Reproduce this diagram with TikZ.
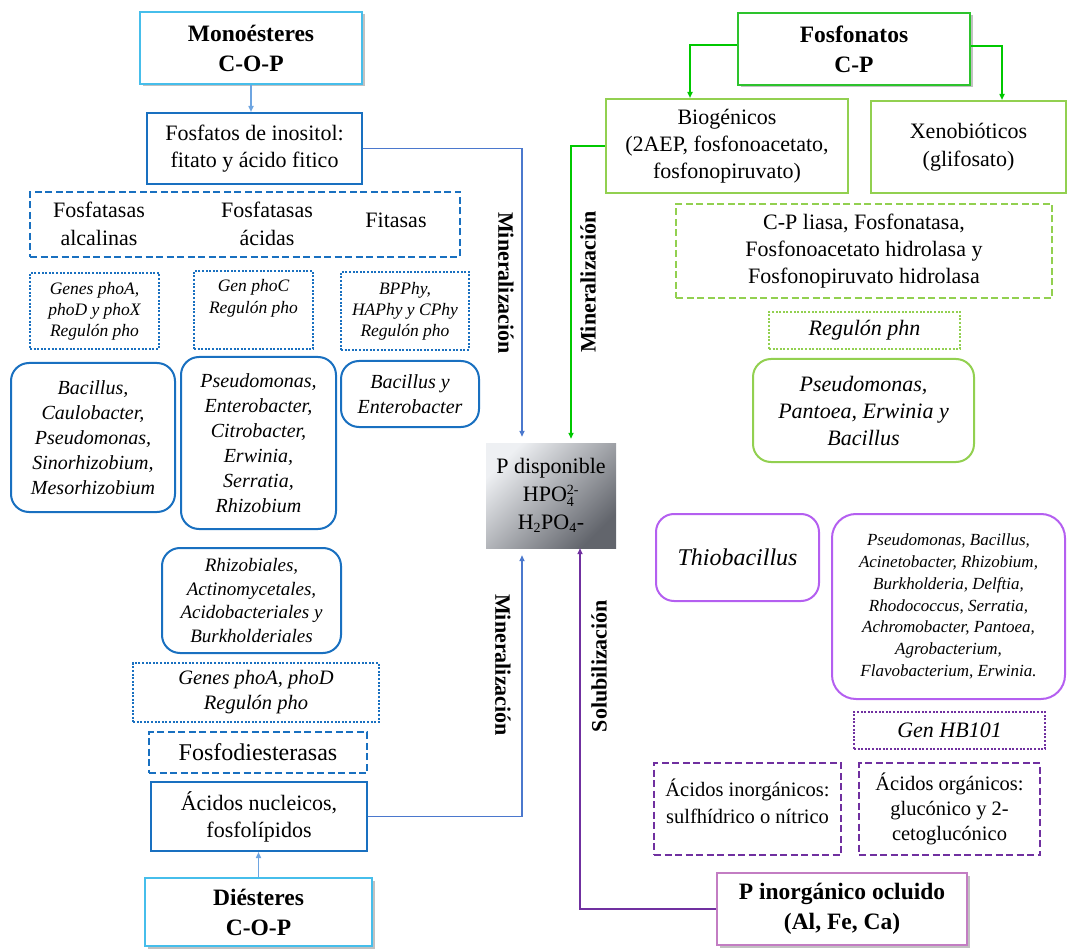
\documentclass[tikz,border=0pt]{standalone}
\usepackage{fontspec}
\setmainfont{Liberation Serif}
\usetikzlibrary{arrows.meta,shadows,calc}
\definecolor{cyanb}{RGB}{70,190,235}
\definecolor{blueb}{RGB}{25,112,192}
\definecolor{bluearr}{RGB}{110,165,225}
\definecolor{blueline}{RGB}{75,120,205}
\definecolor{greenb}{RGB}{45,195,45}
\definecolor{greenl}{RGB}{0,200,0}
\definecolor{lgreen}{RGB}{146,208,80}
\definecolor{purp}{RGB}{180,95,240}
\definecolor{dpurp}{RGB}{112,48,160}
\definecolor{pinkb}{RGB}{195,125,195}
\definecolor{grayL}{RGB}{238,240,243}
\definecolor{grayD}{RGB}{98,101,108}
\newcommand{\szN}{\fontsize{22}{27}\selectfont}
\newcommand{\szH}{\fontsize{23.5}{30}\selectfont\bfseries}
\newcommand{\szS}{\fontsize{17.5}{21}\selectfont\itshape}
\newcommand{\szB}{\fontsize{20}{25}\selectfont\itshape}
\newcommand{\szI}{\fontsize{22}{27}\selectfont\itshape}
\newcommand{\szL}{\fontsize{17}{21.7}\selectfont\itshape}
\newcommand{\szV}{\fontsize{22}{22}\selectfont\bfseries}
\newcommand{\smalltxt}[1]{\hbox{\fontsize{14}{14}\selectfont #1}}
\tikzset{
  base/.style={inner sep=0pt, align=center},
  sz/.style 2 args={minimum width=#1pt, minimum height=#2pt},
  hdr/.style={base, draw=#1, line width=1.8pt, fill=white,
    drop shadow={shadow xshift=2.5pt, shadow yshift=-2.5pt, opacity=0.35, fill=black!70}},
  solidbox/.style={base, draw=#1, line width=2pt},
  dashbox/.style={base, draw=#1, line width=1.7pt, dash pattern=on 7pt off 3.5pt},
  dotbox/.style={base, draw=#1, line width=1.7pt, dash pattern=on 2pt off 1.6pt},
  roundbox/.style={base, draw=#1, line width=2pt, rounded corners=18pt},
  conn/.style={draw=#1, line width=1.8pt, -{Triangle[length=6pt,width=5pt]}},
  vlab/.style={base, font=\szV},
}
\begin{document}
\begin{tikzpicture}[x=1pt,y=-1pt]
\useasboundingbox (0,0) rectangle (1068,949);
% ---------- left top
\node[hdr=cyanb, sz={222}{72}, font=\szH] (mono) at (251,48) {Monoésteres\\C-O-P};
\node[solidbox=blueb, sz={215}{71}, font=\szN] (inos) at (254.5,148.5) {Fosfatos de inositol:\\fitato y ácido fitico};
\node[dashbox=blueb, sz={430}{65}] (enz) at (245,224.5) {};
\node[base, font={\fontsize{22}{28}\selectfont}] (enz1) at (99,224) {Fosfatasas\\alcalinas};
\node[base, font={\fontsize{22}{28}\selectfont}] (enz2) at (267,224) {Fosfatasas\\ácidas};
\node[base, font=\szN] (enz3) at (396,220) {Fitasas};
\node[dotbox=blueb, sz={129}{76}, font=\szS] (g1) at (94.5,311) {Genes phoA,\\phoD y phoX\\Regulón pho};
\node[dotbox=blueb, sz={119}{78}] (g2) at (253.5,310) {};
\node[base, font={\fontsize{17.5}{22}\selectfont\itshape}] (g2t) at (253.5,298.5) {Gen phoC\\Regulón pho};
\node[dotbox=blueb, sz={128}{78}, font=\szS] (g3) at (405,311) {BPPhy,\\HAPhy y CPhy\\Regulón pho};
\node[roundbox=blueb, sz={164}{149}, font=\szB] (bA) at (93,437.5) {Bacillus,\\Caulobacter,\\Pseudomonas,\\Sinorhizobium,\\Mesorhizobium};
\node[roundbox=blueb, sz={155}{172}, font=\szB] (bB) at (258.5,443) {Pseudomonas,\\Enterobacter,\\Citrobacter,\\Erwinia,\\Serratia,\\Rhizobium};
\node[roundbox=blueb, sz={138}{66}, font=\szB] (bC) at (410,394) {Bacillus y\\Enterobacter};
% ---------- center
\node[base, sz={130}{105}, top color=grayL, bottom color=grayD, shading angle=45, font={\fontsize{22}{28}\selectfont}] (pd) at (551,495.5)
  {P disponible\\HPO$_{\smalltxt{4}}^{\smalltxt{2-}}$\\H$_{\smalltxt{2}}$PO$_{\smalltxt{4}}$-};
% ---------- right top
\node[hdr=greenb, sz={232}{72}, font=\szH] (fosf) at (854,49) {Fosfonatos\\C-P};
\node[solidbox=lgreen, sz={242}{94}, font=\szN] (bio) at (727,146) {Biogénicos\\(2AEP, fosfonoacetato,\\fosfonopiruvato)};
\node[solidbox=lgreen, sz={195}{92}, font={\fontsize{22}{28}\selectfont}] (xeno) at (968.5,147) {Xenobióticos\\(glifosato)};
\node[dashbox=lgreen, sz={376}{94}, font=\szN] (genz) at (864,251) {C-P liasa, Fosfonatasa,\\Fosfonoacetato hidrolasa y\\Fosfonopiruvato hidrolasa};
\node[dotbox=lgreen, sz={191}{37}, font=\szI] (phn) at (864.5,330.5) {Regulón phn};
\node[roundbox=lgreen, sz={221}{103}, font=\szI] (gbac) at (863.5,410.5) {Pseudomonas,\\Pantoea, Erwinia y\\Bacillus};
% ---------- right bottom
\node[roundbox=purp, sz={163}{87}, font={\fontsize{24}{28}\selectfont\itshape}] (thio) at (737.5,557.5) {Thiobacillus};
\node[roundbox=purp, rounded corners=24pt, sz={233}{185}, font=\szL] (plist) at (948.5,606.5) {Pseudomonas, Bacillus,\\Acinetobacter, Rhizobium,\\Burkholderia, Delftia,\\Rhodococcus, Serratia,\\Achromobacter, Pantoea,\\Agrobacterium,\\Flavobacterium, Erwinia.};
\node[dotbox=dpurp, sz={191}{37}, font=\szI] (hb) at (949.5,730.5) {Gen HB101};
\node[dashbox=dpurp, sz={187}{92}] (ainorg) at (747.5,809) {};
\node[base, font={\fontsize{20.5}{27}\selectfont}] (ainorgt) at (747.5,801.5) {Ácidos inorgánicos:\\sulfhídrico o nítrico};
\node[dashbox=dpurp, sz={181}{92}, font={\fontsize{20.5}{25}\selectfont}] (aorg) at (949.5,809) {Ácidos orgánicos:\\glucónico y 2-\\cetoglucónico};
\node[hdr=pinkb, sz={250}{72}, font={\fontsize{23.5}{30}\selectfont\bfseries}] (pino) at (842,909) {P inorgánico ocluido\\(Al, Fe, Ca)};
% ---------- left bottom
\node[roundbox=blueb, sz={179}{105}, font={\fontsize{19}{23.5}\selectfont\itshape}] (rhiz) at (251.5,600.5) {Rhizobiales,\\Actinomycetales,\\Acidobacteriales y\\Burkholderiales};
\node[dotbox=blueb, sz={246}{59}, font={\fontsize{20.5}{25}\selectfont\itshape}] (gph) at (256,692.5) {Genes phoA, phoD\\Regulón pho};
\node[dashbox=blueb, sz={218}{41}, font={\fontsize{24}{28}\selectfont}] (fdiest) at (258,752.5) {Fosfodiesterasas};
\node[solidbox=blueb, sz={216}{69}, font=\szN] (anuc) at (259,816.5) {Ácidos nucleicos,\\fosfolípidos};
\node[hdr=cyanb, sz={227}{68}, font=\szH] (dies) at (258.5,912) {Diésteres\\C-O-P};
% ---------- connectors
\draw[conn=bluearr, line width=1.5pt] (mono.south) -- (mono.south |- inos.north);
\draw[conn=blueline, shorten >=6pt] (inos.east) -| ($(pd.north)+(-29,0)$);
\draw[conn=greenl, shorten >=4pt] (bio.west) -| ($(pd.north)+(20,0)$);
\draw[conn=greenl] ([yshift=4pt]fosf.west) -| ($(bio.north)+(-37,0)$);
\draw[conn=greenl] ([yshift=3pt]fosf.east) -| ($(xeno.north)+(33.5,0)$);
\draw[conn=blueline, shorten >=7pt] (anuc.east) -| ($(pd.south)+(-29,0)$);
\draw[conn=dpurp, line width=2pt] (pino.west) -| ($(pd.south)+(29,0)$);
\draw[conn=bluearr, line width=1.5pt] (dies.north) -- (dies.north |- anuc.south);
% ---------- vertical labels
\node[vlab, rotate=-90] (m1) at (506,283) {Mineralización};
\node[vlab, rotate=90] (m2) at (588,282) {Mineralización};
\node[vlab, rotate=-90] (m3) at (503,665) {Mineralización};
\node[vlab, rotate=90] (s1) at (599,666) {Solubilización};
\end{tikzpicture}
\end{document}
